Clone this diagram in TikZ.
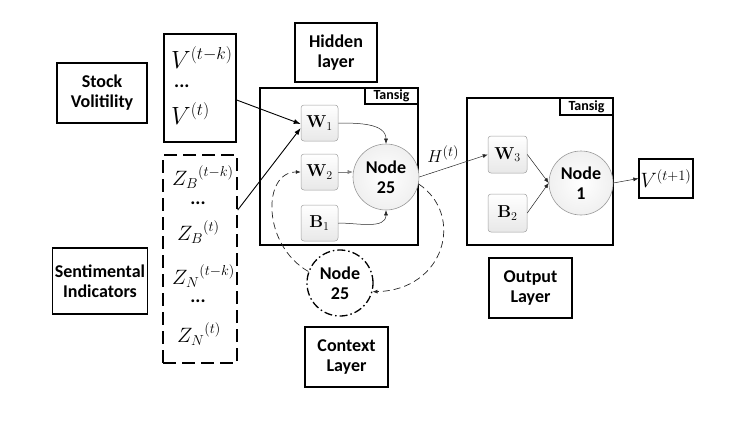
\documentclass[tikz,border=0pt]{standalone}
\usepackage[no-math]{fontspec}
\setmainfont{Carlito}
\usetikzlibrary{arrows.meta}
\begin{document}
\begin{tikzpicture}[x=1pt,y=-1pt,
  lbl/.style={draw, line width=1.3pt, font=\bfseries\fontsize{18}{20}\selectfont, align=center, inner sep=0pt},
  bigbox/.style={draw, line width=1.3pt},
  tans/.style={draw, line width=1.2pt, fill=white, font=\bfseries\fontsize{14}{15}\selectfont, inner sep=0pt},
  wbox/.style={draw=gray!75, line width=0.5pt, rounded corners=3pt, top color=white, bottom color=gray!18, minimum width=37pt, minimum height=36pt, inner sep=0pt, font=\fontsize{18}{20}\selectfont},
  neuron/.style={circle, draw=gray!80, line width=0.6pt, inner color=white, outer color=gray!12, inner sep=0pt, align=center, font=\bfseries\fontsize{18}{20}\selectfont},
  mth/.style={font=\fontsize{22}{24}\selectfont, inner sep=0pt, anchor=west},
  dts/.style={font=\bfseries\fontsize{19}{19}\selectfont, inner sep=0pt},
  arr/.style={-{Latex[length=7pt,width=5pt]}, line width=0.9pt},
  thin/.style={-{Latex[length=5pt,width=4pt]}, line width=0.5pt, draw=black!85}
]
\useasboundingbox (0,0) rectangle (747,429);

% input label boxes
\node[lbl, minimum width=90pt, minimum height=60pt] (stock) at (102,93) {Stock\\Volitility};
\node[lbl, minimum width=95pt, minimum height=66pt] (senti) at (100,281) {Sentimental\\Indicators};

% V box
\node[draw, line width=1.3pt, minimum width=72pt, minimum height=108pt, inner sep=0pt] (vbox) at (200,88) {};
\node[mth, font=\fontsize{25}{27}\selectfont] (v1) at (171,58) {$V^{(t-k)}$};
\node[dts, anchor=west] (vd) at (174,86) {...};
\node[mth, font=\fontsize{25}{27}\selectfont] (v2) at (171,114) {$V^{(t)}$};

% Z box
\node[draw, line width=1.4pt, dash pattern=on 13pt off 6pt, minimum width=74pt, minimum height=208pt, inner sep=0pt] (zbox) at (200,259) {};
\node[mth] (z1) at (172,177) {${Z_{B}}^{(t-k)}$};
\node[dts] (zd1) at (198,203) {...};
\node[mth] (z2) at (177,232) {${Z_{B}}^{(t)}$};
\node[mth] (z3) at (172,276) {${Z_{N}}^{(t-k)}$};
\node[dts] (zd2) at (198,301) {...};
\node[mth] (z4) at (177,334) {${Z_{N}}^{(t)}$};

% hidden layer
\node[lbl, minimum width=82pt, minimum height=59pt] (hid) at (336,52.5) {Hidden\\layer};
\node[bigbox, minimum width=158pt, minimum height=157pt, inner sep=0pt] (hbox) at (339,166.5) {};
\node[tans, minimum width=53pt, minimum height=16pt, anchor=north east] (t1) at (hbox.north east) {Tansig};
\node[wbox] (w1) at (319.5,123) {$\mathbf{W}_{1}$};
\node[wbox] (w2) at (319.5,172) {$\mathbf{W}_{2}$};
\node[wbox] (b1) at (319.5,223) {$\mathbf{B}_{1}$};
\node[neuron, minimum size=66pt] (n25) at (386,177) {Node\\25};

% context
\node[circle, draw, line width=1.3pt, dash pattern=on 8pt off 3pt on 1.5pt off 3pt, minimum size=66pt, inner sep=0pt, align=center, font=\bfseries\fontsize{18}{20}\selectfont] (ctx) at (340,283) {Node\\25};
\node[lbl, minimum width=83pt, minimum height=60pt] (ctxl) at (346.5,357) {Context\\Layer};

% output layer
\node[bigbox, minimum width=146pt, minimum height=147pt, inner sep=0pt] (obox) at (540,171.5) {};
\node[tans, minimum width=53pt, minimum height=17pt, anchor=north east] (t2) at (obox.north east) {Tansig};
\node[wbox, minimum width=39pt, minimum height=37pt] (w3) at (507.5,154.5) {$\mathbf{W}_{3}$};
\node[wbox, minimum width=39pt, minimum height=38pt] (b2) at (507.5,213) {$\mathbf{B}_{2}$};
\node[neuron, minimum size=64pt] (n1) at (581,183) {Node\\1};
\node[draw, line width=1.3pt, minimum width=54pt, minimum height=39pt, inner sep=0pt, font=\fontsize{21}{24}\selectfont] (vout) at (666,178.5) {$V^{(t+1)}$};
\node[lbl, minimum width=83pt, minimum height=60pt] (outl) at (530.5,288) {Output\\Layer};

% connectors
\draw[arr] ([yshift=-12pt]vbox.east) -- ([yshift=-1pt]w1.west);
\draw[arr] ([yshift=49pt]zbox.east) -- ([yshift=-5pt]w1.west);
\draw[thin] (w1.east) to[out=0,in=90] (n25.north);
\draw[thin, draw=gray] (w2.east) -- (w2.east -| n25.west);
\draw[thin] (b1.east) to[out=0,in=-90] (n25.south);
\draw[thin] (n25.east) -- node[pos=0.35, above=3pt, font=\fontsize{19}{22}\selectfont] {$H^{(t)}$} (w3.west);
\draw[thin] (w3.east) -- (n1.west);
\draw[thin] (b2.east) -- (n1.west);
\draw[thin] (n1.east) -- (vout.west);
\draw[thin, line width=0.7pt, dash pattern=on 7pt off 4pt] (n25.-12) .. controls (465,215) and (445,290) .. (ctx.-15);
\draw[thin, line width=0.7pt, dash pattern=on 7pt off 4pt] (ctx.160) .. controls (262,245) and (262,172) .. (w2.west);
\end{tikzpicture}
\end{document}
